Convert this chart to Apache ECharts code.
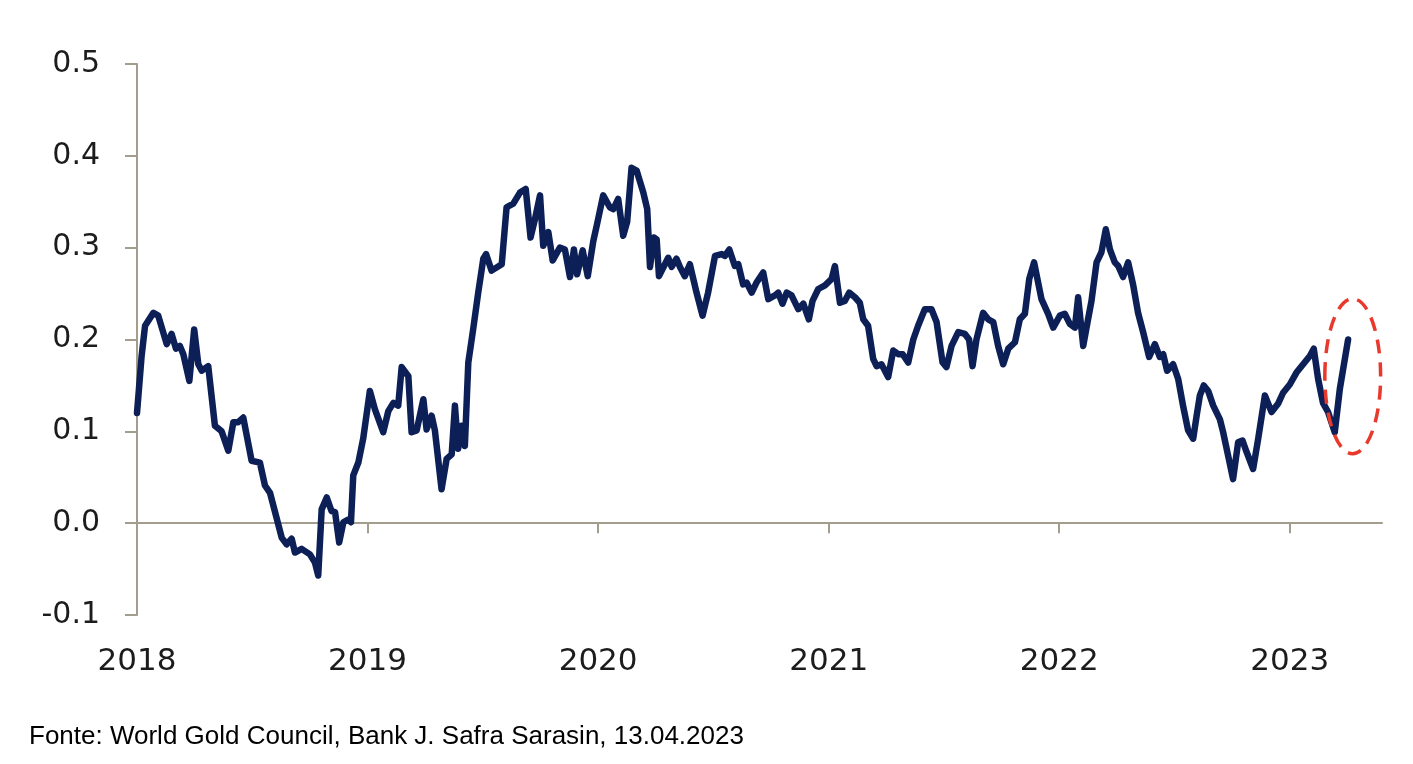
<!DOCTYPE html>
<html>
<head>
<meta charset="utf-8">
<script src="https://cdn.jsdelivr.net/npm/echarts@6/dist/echarts.min.js"></script>
<style>
html,body{margin:0;padding:0;background:#fff;}
#chart{width:1413px;height:764px;}
</style>
</head>
<body>
<div id="chart"></div>
<script>
// [decimal year, value] pairs, one small array per year
const data2018 = [
[2018.000,0.120],[2018.020,0.182],[2018.035,0.215],[2018.071,0.229],[2018.092,0.226],
[2018.129,0.195],[2018.150,0.206],[2018.169,0.190],[2018.186,0.193],[2018.201,0.184],
[2018.227,0.155],[2018.248,0.211],[2018.266,0.173],[2018.281,0.166],[2018.309,0.171],
[2018.338,0.106],[2018.367,0.100],[2018.396,0.079],[2018.418,0.110],[2018.439,0.110],
[2018.461,0.115],[2018.497,0.068],[2018.533,0.066],[2018.555,0.041],[2018.577,0.033],
[2018.628,-0.016],[2018.649,-0.023],[2018.671,-0.017],[2018.685,-0.032],[2018.714,-0.028],
[2018.750,-0.034],[2018.772,-0.043],[2018.786,-0.057],[2018.801,0.015],[2018.823,0.028],
[2018.844,0.013],[2018.859,0.012],[2018.877,-0.021],[2018.895,0.001],[2018.916,0.004],
[2018.928,0.001],[2018.938,0.052],[2018.960,0.066],[2018.981,0.092]
];
const data2019 = [
[2019.010,0.144],[2019.032,0.124],[2019.068,0.099],[2019.090,0.122],[2019.112,0.131],
[2019.133,0.128],[2019.148,0.170],[2019.177,0.160],[2019.191,0.099],[2019.213,0.101],
[2019.242,0.135],[2019.256,0.102],[2019.278,0.117],[2019.292,0.101],[2019.321,0.037],
[2019.343,0.070],[2019.365,0.075],[2019.379,0.128],[2019.393,0.081],[2019.408,0.106],
[2019.422,0.084],[2019.437,0.175],[2019.458,0.211],[2019.480,0.251],[2019.502,0.288],
[2019.514,0.293],[2019.538,0.275],[2019.582,0.282],[2019.603,0.344],[2019.632,0.348],
[2019.661,0.360],[2019.686,0.364],[2019.707,0.311],[2019.726,0.331],[2019.748,0.357],
[2019.762,0.302],[2019.784,0.317],[2019.803,0.286],[2019.834,0.300],[2019.856,0.298],
[2019.878,0.268],[2019.895,0.298],[2019.909,0.271],[2019.933,0.297],[2019.955,0.269],
[2019.979,0.307],[2019.994,0.324]
];
const data2020 = [
[2020.022,0.357],[2020.051,0.344],[2020.066,0.342],[2020.087,0.353],[2020.109,0.313],
[2020.126,0.328],[2020.145,0.387],[2020.167,0.384],[2020.196,0.360],[2020.213,0.342],
[2020.225,0.279],[2020.242,0.311],[2020.254,0.309],[2020.264,0.269],[2020.286,0.280],
[2020.304,0.289],[2020.319,0.279],[2020.340,0.288],[2020.355,0.279],[2020.376,0.269],
[2020.398,0.282],[2020.427,0.251],[2020.453,0.226],[2020.477,0.251],[2020.507,0.291],
[2020.536,0.293],[2020.550,0.291],[2020.569,0.298],[2020.593,0.280],[2020.608,0.282],
[2020.629,0.260],[2020.644,0.262],[2020.666,0.251],[2020.687,0.262],[2020.716,0.273],
[2020.738,0.244],[2020.767,0.248],[2020.781,0.251],[2020.800,0.239],[2020.818,0.251],
[2020.839,0.248],[2020.868,0.233],[2020.890,0.239],[2020.914,0.222],[2020.930,0.242],
[2020.955,0.255],[2020.984,0.259]
];
const data2021 = [
[2021.013,0.266],[2021.027,0.280],[2021.049,0.240],[2021.070,0.242],[2021.089,0.251],
[2021.114,0.246],[2021.135,0.240],[2021.150,0.222],[2021.171,0.215],[2021.193,0.179],
[2021.208,0.171],[2021.229,0.173],[2021.244,0.166],[2021.258,0.159],[2021.280,0.188],
[2021.302,0.184],[2021.321,0.184],[2021.345,0.175],[2021.367,0.200],[2021.388,0.215],
[2021.417,0.233],[2021.446,0.233],[2021.468,0.219],[2021.494,0.175],[2021.511,0.170],
[2021.533,0.193],[2021.562,0.208],[2021.591,0.206],[2021.609,0.200],[2021.624,0.171],
[2021.641,0.200],[2021.670,0.229],[2021.692,0.222],[2021.714,0.219],[2021.735,0.193],
[2021.757,0.173],[2021.779,0.190],[2021.808,0.197],[2021.829,0.222],[2021.851,0.228],
[2021.870,0.266],[2021.891,0.284],[2021.923,0.244],[2021.952,0.228],[2021.974,0.213]
];
const data2022 = [
[2022.003,0.226],[2022.024,0.228],[2022.046,0.217],[2022.068,0.213],[2022.082,0.246],
[2022.104,0.193],[2022.125,0.222],[2022.140,0.242],[2022.162,0.284],[2022.183,0.295],
[2022.202,0.320],[2022.220,0.298],[2022.241,0.284],[2022.256,0.280],[2022.277,0.268],
[2022.299,0.284],[2022.321,0.259],[2022.342,0.229],[2022.364,0.208],[2022.390,0.181],
[2022.415,0.195],[2022.436,0.181],[2022.451,0.184],[2022.468,0.166],[2022.494,0.173],
[2022.516,0.157],[2022.537,0.128],[2022.559,0.101],[2022.581,0.092],[2022.596,0.117],
[2022.610,0.139],[2022.627,0.150],[2022.646,0.144],[2022.668,0.128],[2022.697,0.113],
[2022.711,0.099],[2022.733,0.073],[2022.754,0.048],[2022.776,0.088],[2022.795,0.090],
[2022.812,0.078],[2022.841,0.059],[2022.863,0.092],[2022.892,0.139],[2022.921,0.121],
[2022.949,0.130],[2022.971,0.142]
];
const data2023 = [
[2023.000,0.151],[2023.029,0.164],[2023.058,0.173],[2023.087,0.182],[2023.104,0.190],
[2023.123,0.157],[2023.144,0.131],[2023.166,0.121],[2023.195,0.099],[2023.217,0.146],
[2023.253,0.200]
];
// highlight ellipse: [centre year, centre value, half-width (years), half-height (value)]
const highlight = [[2023.273, 0.160, 0.121, 0.0844]];

const yearTicks = [2018, 2019, 2020, 2021, 2022, 2023];
const yMin = -0.1, yMax = 0.5, yStep = 0.1;
const xMin = 2018, xMax = 2023.4;
const sourceText = 'Fonte: World Gold Council, Bank J. Safra Sarasin, 13.04.2023';

const lineData = [].concat(data2018, data2019, data2020, data2021, data2022, data2023);

const axisColor = '#a39d8e';
const chart = echarts.init(document.getElementById('chart'), null, {renderer: 'canvas'});
chart.setOption({
  animation: false,
  backgroundColor: '#ffffff',
  title: {
    text: sourceText,
    left: 24, top: 719,
    textStyle: {fontFamily: 'Liberation Sans', fontSize: 26, fontWeight: 'normal', color: '#000'}
  },
  grid: {left: 137, right: 31, top: 64, bottom: 149, containLabel: false},
  xAxis: [
    {
      type: 'value', min: xMin, max: xMax, interval: 1,
      axisLine: {show: true, onZero: true, lineStyle: {color: axisColor, width: 2}},
      axisTick: {show: true, length: 10, lineStyle: {color: axisColor, width: 2},
                 customValues: yearTicks.slice(1)},
      axisLabel: {show: false},
      splitLine: {show: false}
    },
    {
      type: 'value', min: xMin, max: xMax, interval: 1, position: 'bottom',
      axisLine: {show: false, onZero: false},
      axisTick: {show: false},
      axisLabel: {
        show: true, margin: 31, color: '#1c1c1c',
        fontFamily: 'DejaVu Sans', fontSize: 31,
        customValues: yearTicks,
        formatter: v => String(Math.round(v))
      },
      splitLine: {show: false}
    }
  ],
  yAxis: {
    type: 'value', min: yMin, max: yMax, interval: yStep,
    axisLine: {show: true, onZero: false, lineStyle: {color: axisColor, width: 2}},
    axisTick: {show: true, length: 12, lineStyle: {color: axisColor, width: 2}},
    axisLabel: {
      margin: 37, color: '#1c1c1c', fontFamily: 'DejaVu Sans', fontSize: 30,
      formatter: v => v.toFixed(1)
    },
    splitLine: {show: false}
  },
  series: [
    {
      type: 'line', xAxisIndex: 0, data: lineData, showSymbol: false, symbol: 'none',
      lineStyle: {color: '#0c1f56', width: 6.5, join: 'round', cap: 'round'},
      z: 3
    },
    {
      type: 'custom', xAxisIndex: 0, silent: true, clip: false, z: 4,
      data: highlight,
      renderItem: function (params, api) {
        const c = api.coord([api.value(0), api.value(1)]);
        const s = api.size([api.value(2), api.value(3)]);
        return {
          type: 'ellipse',
          shape: {cx: c[0], cy: c[1], rx: s[0], ry: s[1]},
          style: {fill: 'none', stroke: '#e8392c', lineWidth: 3.5, lineDash: [14, 9]}
        };
      }
    }
  ]
});
</script>
</body>
</html>
